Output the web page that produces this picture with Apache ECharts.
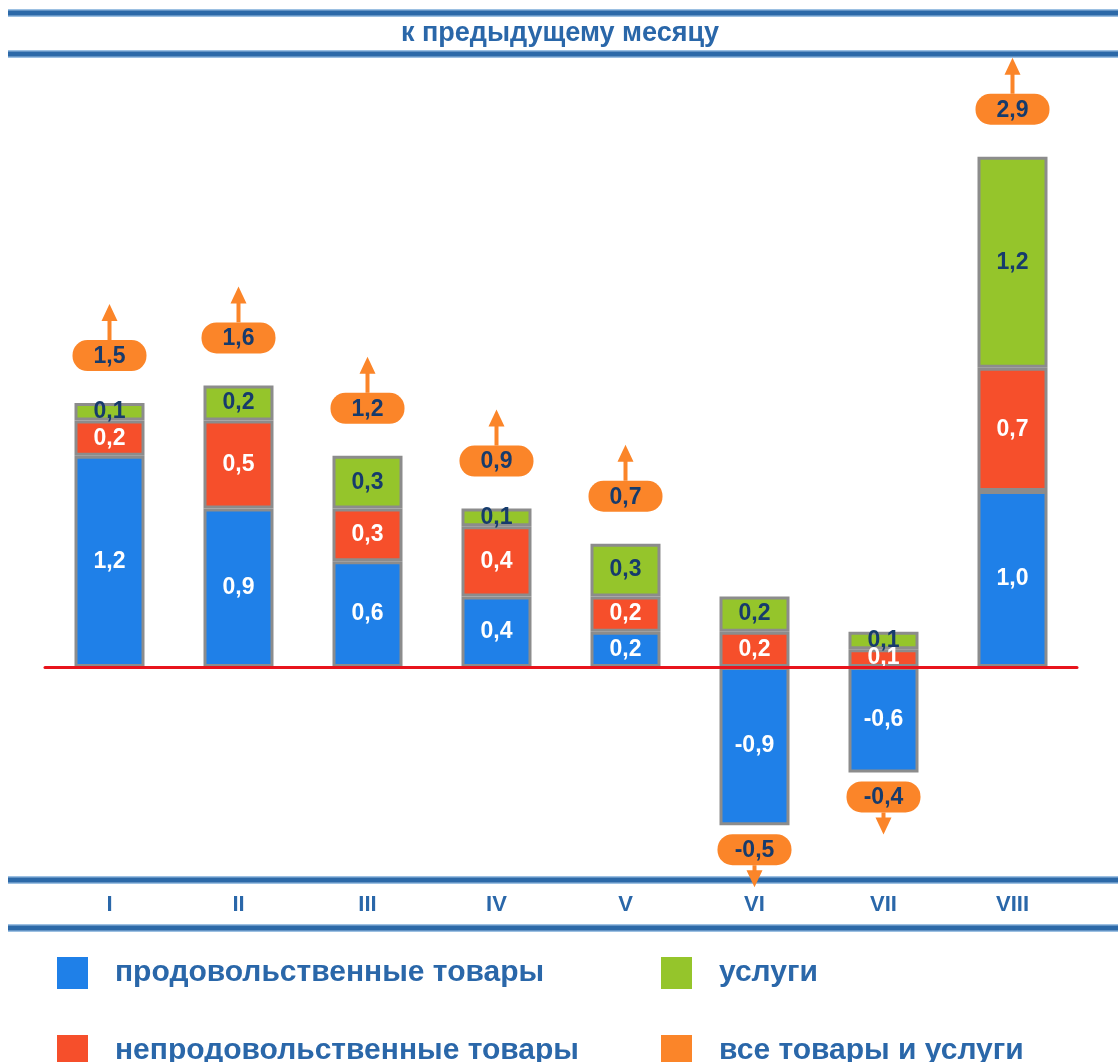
<!DOCTYPE html>
<html>
<head>
<meta charset="utf-8">
<script src="https://cdn.jsdelivr.net/npm/echarts@6/dist/echarts.min.js"></script>
<style>
  html, body { margin: 0; padding: 0; background: #fff; }
  #main { width: 1118px; height: 1062px; }
</style>
</head>
<body>
<div id="main"></div>
<script>
// месяцы
var months = ['I', 'II', 'III', 'IV', 'V', 'VI', 'VII', 'VIII'];
// вклад групп, п.п.
var food = [1.2, 0.9, 0.6, 0.4, 0.2, -0.9, -0.6, 1.0];
var nonFood = [0.2, 0.5, 0.3, 0.4, 0.2, 0.2, 0.1, 0.7];
var services = [0.1, 0.2, 0.3, 0.1, 0.3, 0.2, 0.1, 1.2];
// все товары и услуги
var total = [1.5, 1.6, 1.2, 0.9, 0.7, -0.5, -0.4, 2.9];

var names = ['продовольственные товары', 'непродовольственные товары', 'услуги', 'все товары и услуги'];
var FONT = '"Liberation Sans", Arial, sans-serif';
var TXT = '#2a67a9';
var NAVY = '#163b6c';
var ORANGE = '#fb8529';

function fmt(v) {
    return v.toFixed(1).replace('.', ',');
}

// где ставить плашку итога: над положительной частью столбика или под отрицательной
var totalData = total.map(function (t, i) {
    var parts = [food[i], nonFood[i], services[i]];
    var pos = 0, neg = 0;
    parts.forEach(function (p) { if (p >= 0) pos += p; else neg += p; });
    return [i, t, t >= 0 ? pos : neg];
});

function renderTotal(params, api) {
    var t = api.value(1);
    var p = api.coord([api.value(0), api.value(2)]);
    var up = t >= 0;
    var w = 74, h = 31;
    var gap = up ? 32 : 9;
    var len = up ? 36 : 22;
    var boxY = up ? p[1] - gap - h : p[1] + gap;
    var base = up ? boxY : boxY + h;
    var tip = up ? base - len : base + len;
    var head = up ? 17 : -17;
    return {
        type: 'group',
        children: [
            { type: 'line', shape: { x1: p[0], y1: base, x2: p[0], y2: tip + head * 0.8 },
              style: { stroke: ORANGE, lineWidth: 4 } },
            { type: 'polygon', shape: { points: [[p[0], tip], [p[0] - 8, tip + head], [p[0] + 8, tip + head]] },
              style: { fill: ORANGE } },
            { type: 'rect', shape: { x: p[0] - w / 2, y: boxY, width: w, height: h, r: 15 },
              style: { fill: ORANGE } },
            { type: 'text', x: p[0], y: boxY + h / 2 + 1,
              style: { text: fmt(t), fill: NAVY, font: 'bold 23px ' + FONT, align: 'center', verticalAlign: 'middle' } }
        ]
    };
}

function band(y) {
    return [
        { type: 'rect', shape: { x: 8, y: y - 4, width: 1110, height: 8 }, style: { fill: '#9cc0e2' } },
        { type: 'rect', shape: { x: 8, y: y - 2.5, width: 1110, height: 5 }, style: { fill: '#2c69a8' } }
    ];
}

function legendItem(name, left, top) {
    return {
        left: left, top: top, itemWidth: 31, itemHeight: 32,
        icon: 'rect', selectedMode: false, data: [name],
        itemStyle: { borderWidth: 0 },
        textStyle: { fontSize: 30, fontWeight: 'bold', color: TXT, fontFamily: FONT, padding: [0, 0, 0, 22] }
    };
}

var myChart = echarts.init(document.getElementById('main'));

var barLabel = function (color) {
    return {
        show: true,
        position: 'inside',
        color: color,
        fontFamily: FONT,
        fontWeight: 'bold',
        fontSize: 23,
        formatter: function (p) { return fmt(p.value); }
    };
};
var barStyle = function (color) {
    return { color: color, borderColor: '#8c8c8c', borderWidth: 3 };
};

var option = {
    animation: false,
    textStyle: { fontFamily: FONT },
    grid: { left: 45, right: 41, top: 60, bottom: 184 },
    graphic: band(13).concat(band(54), band(880), band(928), [
        { type: 'text', x: 560, y: 34,
          style: { text: 'к предыдущему месяцу', fill: TXT, font: 'bold 27px ' + FONT, align: 'center', verticalAlign: 'middle' } }
    ]),
    legend: [
        legendItem(names[0], 52, 952),
        legendItem(names[1], 52, 1030),
        legendItem(names[2], 656, 952),
        legendItem(names[3], 656, 1030)
    ],
    xAxis: [
        {
            type: 'category', data: months, position: 'bottom', z: 5,
            axisLine: { onZero: true, lineStyle: { color: '#e8141c', width: 3 } },
            axisTick: { show: false }, axisLabel: { show: false }
        },
        {
            type: 'category', data: months, position: 'bottom',
            axisLine: { show: false, onZero: false }, axisTick: { show: false },
            axisLabel: { margin: 16, color: TXT, fontSize: 22, fontWeight: 'bold', fontFamily: FONT }
        }
    ],
    yAxis: {
        type: 'value', min: -1.2, max: 3.45, show: false,
        splitLine: { show: false }
    },
    series: [
        { name: names[0], type: 'bar', stack: 'all', barWidth: 70, data: food,
          itemStyle: barStyle('#1f80e8'), label: barLabel('#ffffff') },
        { name: names[1], type: 'bar', stack: 'all', barWidth: 70, data: nonFood,
          itemStyle: barStyle('#f64f2b'), label: barLabel('#ffffff') },
        { name: names[2], type: 'bar', stack: 'all', barWidth: 70, data: services,
          itemStyle: barStyle('#95c52b'), label: barLabel(NAVY) },
        { name: names[3], type: 'custom', data: totalData, z: 4,
          itemStyle: { color: ORANGE }, renderItem: renderTotal,
          encode: { x: 0, y: [1, 2] } }
    ]
};

myChart.setOption(option);
</script>
</body>
</html>
